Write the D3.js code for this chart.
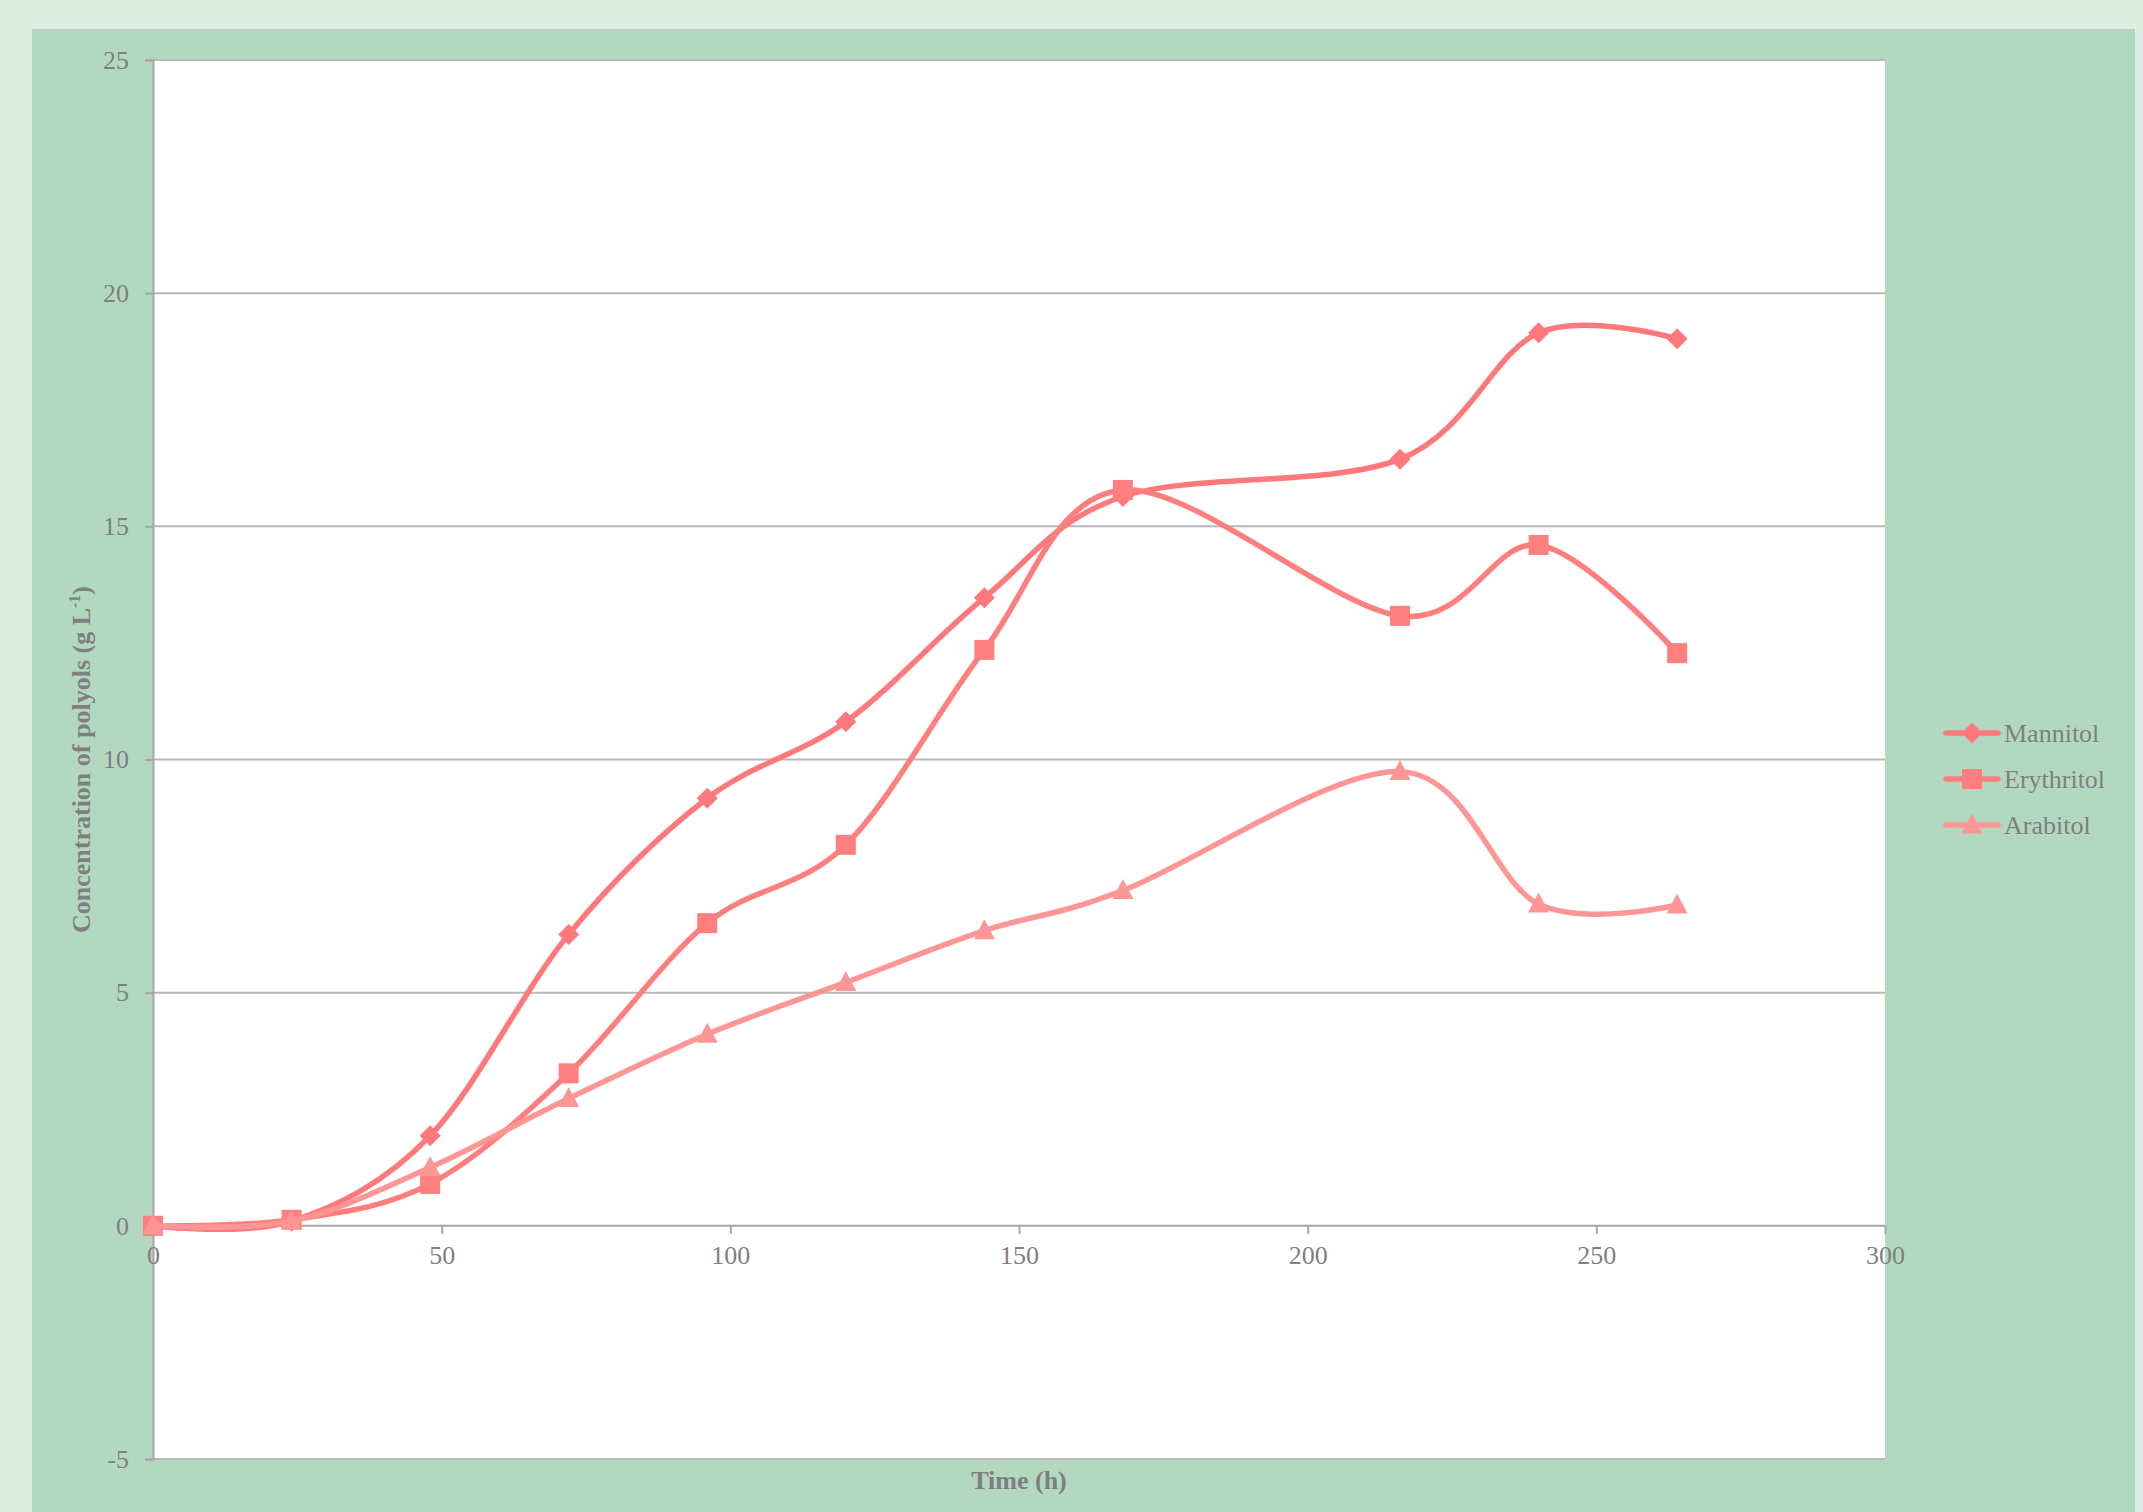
<!DOCTYPE html>
<html>
<head>
<meta charset="utf-8">
<script src="https://cdn.jsdelivr.net/npm/d3@7"></script>
<style>
  html, body { margin: 0; padding: 0; background: #dfeee3; }
  svg { display: block; }
  text { font-family: "Liberation Serif", "Times New Roman", serif; fill: #7f7f7f; }
</style>
</head>
<body>
<svg id="chart" width="2143" height="1512"></svg>
<script>
// Sampling times (h)
const hours = [0, 24, 48, 72, 96, 120, 144, 168, 216, 240, 264];

// Polyol concentrations (g/L) per sampling time
const mannitol   = [0, 0.1, 1.93, 6.25, 9.17, 10.81, 13.47, 15.64, 16.44, 19.15, 19.02];
const erythritol = [0, 0.13, 0.9, 3.27, 6.49, 8.17, 12.35, 15.78, 13.08, 14.6, 12.28];
const arabitol   = [0, 0.1, 1.25, 2.73, 4.11, 5.22, 6.33, 7.19, 9.74, 6.9, 6.88];

const seriesNames = ["Mannitol", "Erythritol", "Arabitol"];
const seriesColors = ["#ff787c", "#ff7e7e", "#ff9696"];
const seriesShapes = ["diamond", "square", "triangle"];

const xTicks = [0, 50, 100, 150, 200, 250, 300];
const yTicks = [-5, 0, 5, 10, 15, 20, 25];

const svg = d3.select("#chart");
const W = 2143, H = 1512;

// Chart panel
svg.append("rect").attr("x", 0).attr("y", 0).attr("width", W).attr("height", H).attr("fill", "#dfeee3");
svg.append("rect").attr("x", 32).attr("y", 29).attr("width", 2103).attr("height", H - 29).attr("fill", "#b2d9bf");

const plot = { left: 153, right: 1885, top: 60, bottom: 1459 };

const x = d3.scaleLinear().domain([0, 300]).range([plot.left, plot.right]);
const y = d3.scaleLinear().domain([-5, 25]).range([plot.bottom, plot.top]);

// Plot area
svg.append("rect")
  .attr("x", plot.left).attr("y", plot.top)
  .attr("width", plot.right - plot.left).attr("height", plot.bottom - plot.top)
  .attr("fill", "#ffffff");

// Horizontal gridlines
svg.append("g")
  .selectAll("line")
  .data(yTicks)
  .join("line")
  .attr("x1", plot.left).attr("x2", plot.right)
  .attr("y1", d => y(d)).attr("y2", d => y(d))
  .attr("stroke", d => d === 0 ? "#a6a6a6" : "#b8b8b8")
  .attr("stroke-width", 2);

// Plain hyphen-minus labels
const plainFormat = d => String(d);

// Y axis
const yAxis = d3.axisLeft(y).tickValues(yTicks).tickSize(8).tickPadding(16).tickFormat(plainFormat);
const gy = svg.append("g").attr("transform", `translate(${plot.left},0)`).call(yAxis);
gy.select(".domain").attr("stroke", "#a6a6a6").attr("stroke-width", 2);
gy.selectAll(".tick line").attr("stroke", "#a6a6a6").attr("stroke-width", 2);
gy.selectAll(".tick text").attr("font-size", 26).attr("fill", "#7f7f7f")
  .style("font-family", '"Liberation Serif", serif');

// X axis along the zero line
const xAxis = d3.axisBottom(x).tickValues(xTicks).tickSize(8).tickPadding(12).tickFormat(plainFormat);
const gx = svg.append("g").attr("transform", `translate(0,${y(0)})`).call(xAxis);
gx.select(".domain").remove();
gx.selectAll(".tick line").attr("stroke", "#a6a6a6").attr("stroke-width", 2);
gx.selectAll(".tick text").attr("font-size", 26).attr("fill", "#7f7f7f")
  .style("font-family", '"Liberation Serif", serif');

// Axis titles
svg.append("text")
  .attr("x", (plot.left + plot.right) / 2).attr("y", 1489)
  .attr("text-anchor", "middle").attr("font-size", 26).attr("font-weight", "bold")
  .text("Time (h)");

const yTitle = svg.append("text")
  .attr("transform", `translate(90,${(plot.top + plot.bottom) / 2}) rotate(-90)`)
  .attr("text-anchor", "middle").attr("font-size", 26).attr("font-weight", "bold");
yTitle.append("tspan").text("Concentration of polyols (g L");
yTitle.append("tspan").attr("font-size", 16).attr("dy", -10).text("-1");
yTitle.append("tspan").attr("dy", 10).text(")");

// Smoothed series lines with markers
const line = d3.line().curve(d3.curveCardinal.tension(0)).x(d => x(d[0])).y(d => y(d[1]));

const symbolFor = {
  diamond: () => { const s = 10.5; return `M0,${-s}L${s},0L0,${s}L${-s},0Z`; },
  square: () => { const s = 10; return `M${-s},${-s}H${s}V${s}H${-s}Z`; },
  triangle: () => { const s = 10.5; return `M0,${-s - 1}L${s},${s - 2}L${-s},${s - 2}Z`; }
};

const allSeries = [mannitol, erythritol, arabitol];

allSeries.forEach((vals, i) => {
  const pts = hours.map((h, k) => [h, vals[k]]);
  const g = svg.append("g");
  g.append("path")
    .attr("d", line(pts))
    .attr("fill", "none")
    .attr("stroke", seriesColors[i])
    .attr("stroke-width", 5.5)
    .attr("stroke-linecap", "round")
    .attr("stroke-linejoin", "round");
  g.selectAll("path.mk")
    .data(pts)
    .join("path")
    .attr("class", "mk")
    .attr("d", symbolFor[seriesShapes[i]]())
    .attr("transform", d => `translate(${x(d[0])},${y(d[1])})`)
    .attr("fill", seriesColors[i]);
});

// Legend
const legend = svg.append("g");
seriesNames.forEach((name, i) => {
  const cy = 733 + i * 46;
  legend.append("line")
    .attr("x1", 1946).attr("x2", 1998).attr("y1", cy).attr("y2", cy)
    .attr("stroke", seriesColors[i]).attr("stroke-width", 5.5).attr("stroke-linecap", "round");
  legend.append("path")
    .attr("d", symbolFor[seriesShapes[i]]())
    .attr("transform", `translate(1972,${cy})`)
    .attr("fill", seriesColors[i]);
  legend.append("text")
    .attr("x", 2004).attr("y", cy + 9)
    .attr("font-size", 26)
    .text(name);
});
</script>
</body>
</html>
